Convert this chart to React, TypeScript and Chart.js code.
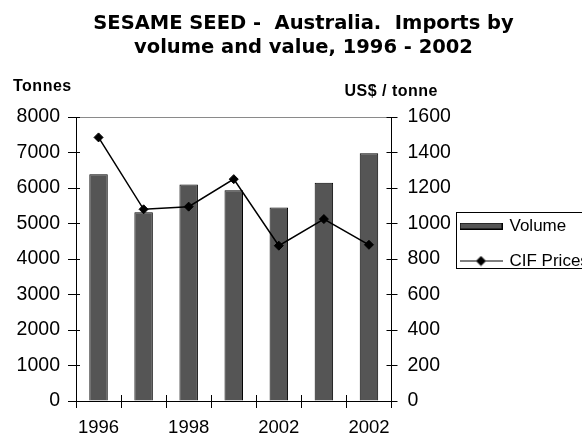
import React, { useEffect, useRef } from "react";
import { Chart, registerables } from "chart.js";

Chart.register(...registerables);

// ---- data ----
const CATEGORIES = ["1996", "1997", "1998", "1999", "2000", "2001", "2002"];
const TICK_LABELS = ["1996", "", "1998", "", "2002", "", "2002"];
const VOLUME = [6390, 5320, 6100, 5940, 5450, 6150, 6980];
const CIF_PRICES = [1485, 1080, 1095, 1250, 875, 1025, 880];
const SERIES_NAMES = ["Volume", "CIF Prices"];
const TITLE_LINES = ["SESAME SEED -  Australia.  Imports by", "volume and value, 1996 - 2002"];
const LEFT_UNIT = "Tonnes";
const RIGHT_UNIT = "US$ / tonne";
const LEFT_RANGE = [0, 8000, 1000];
const RIGHT_RANGE = [0, 1600, 200];

// ---- style ----
const BAR_FILL = "#555555";
const FONT = "'Liberation Sans', Arial, sans-serif";

function alignPx(p: number) {
  return Math.round(p - 0.5) + 0.5;
}

function makeSwatch(): HTMLCanvasElement {
  const c = document.createElement("canvas");
  c.width = 43;
  c.height = 7;
  const g = c.getContext("2d")!;
  g.fillStyle = BAR_FILL;
  g.fillRect(0, 0, 43, 7);
  g.strokeStyle = "#000";
  g.lineWidth = 1;
  g.strokeRect(0.5, 0.5, 42, 6);
  return c;
}

function makeLineMarker(): HTMLCanvasElement {
  const c = document.createElement("canvas");
  c.width = 43;
  c.height = 11;
  const g = c.getContext("2d")!;
  g.strokeStyle = "#000";
  g.lineWidth = 1.2;
  g.beginPath();
  g.moveTo(0, 5.5);
  g.lineTo(43, 5.5);
  g.stroke();
  g.fillStyle = "#000";
  g.beginPath();
  g.moveTo(21.5, 0.5);
  g.lineTo(26.5, 5.5);
  g.lineTo(21.5, 10.5);
  g.lineTo(16.5, 5.5);
  g.closePath();
  g.fill();
  return c;
}

const innerTicks = {
  id: "innerTicks",
  afterDraw(chart: any) {
    const { ctx, chartArea: a, scales } = chart;
    ctx.save();
    ctx.strokeStyle = "#000";
    ctx.lineWidth = 1;
    ctx.beginPath();
    scales.y.ticks.forEach((_t: any, i: number) => {
      const p = alignPx(scales.y.getPixelForTick(i));
      ctx.moveTo(a.left, p);
      ctx.lineTo(a.left + 4, p);
    });
    scales.y1.ticks.forEach((_t: any, i: number) => {
      const p = alignPx(scales.y1.getPixelForTick(i));
      ctx.moveTo(a.right - 5, p);
      ctx.lineTo(a.right, p);
    });
    for (let i = 0; i <= CATEGORIES.length; i++) {
      const x = alignPx(scales.x.getPixelForValue(i - 0.5));
      ctx.moveTo(x, a.bottom);
      ctx.lineTo(x, a.bottom - 6);
    }
    ctx.stroke();
    ctx.restore();
  },
};

const unitsAndFrame = {
  id: "unitsAndFrame",
  afterDraw(chart: any) {
    const { ctx, chartArea: a } = chart;
    ctx.save();
    ctx.fillStyle = "#000";
    ctx.font = `bold 16px ${FONT}`;
    (ctx as any).letterSpacing = "0.5px";
    ctx.textBaseline = "alphabetic";
    ctx.textAlign = "left";
    ctx.fillText(LEFT_UNIT, a.left - 63, a.top - 26);
    ctx.fillText(RIGHT_UNIT, a.right - 47, a.top - 21);
    (ctx as any).letterSpacing = "0px";
    // legend frame
    const lg = chart.legend;
    const hb = lg.legendHitBoxes;
    if (hb && hb.length) {
      const left = alignPx(lg.left + 0.5);
      const top = alignPx(hb[0].top - 5);
      const bottom = alignPx(hb[hb.length - 1].top + 15.5);
      ctx.strokeStyle = "#000";
      ctx.lineWidth = 1;
      ctx.strokeRect(left, top, lg.right + 5 - left, bottom - top);
    }
    ctx.restore();
  },
};

export default function App() {
  const ref = useRef<HTMLCanvasElement | null>(null);

  useEffect(() => {
    if (!ref.current) return;
    const swatch = makeSwatch();
    const marker = makeLineMarker();
    Chart.defaults.font.family = FONT;
    Chart.defaults.color = "#000";

    const chart = new Chart(ref.current, {
      type: "bar",
      data: {
        labels: CATEGORIES,
        datasets: [
          {
            type: "bar",
            label: SERIES_NAMES[0],
            data: VOLUME,
            yAxisID: "y",
            backgroundColor: BAR_FILL,
            borderColor: "#000",
            borderWidth: 1,
            barPercentage: 0.41,
            categoryPercentage: 1,
            order: 1,
          },
          {
            type: "line",
            label: SERIES_NAMES[1],
            data: CIF_PRICES,
            yAxisID: "y1",
            borderColor: "#000",
            borderWidth: 1.5,
            pointStyle: "rectRot",
            pointRadius: 4.5,
            pointBackgroundColor: "#000",
            pointBorderColor: "#000",
            pointBorderWidth: 1,
            tension: 0,
            order: 0,
          } as any,
        ],
      },
      options: {
        responsive: false,
        animation: false,
        devicePixelRatio: 1,
        layout: { padding: { left: 14, right: -11, top: 0, bottom: 0 } },
        plugins: {
          tooltip: { enabled: false },
          title: {
            display: true,
            text: TITLE_LINES,
            color: "#000",
            font: { family: "'DejaVu Sans', sans-serif", weight: "bold", size: 19.5, lineHeight: 24 / 19.5 },
            padding: { top: 12.25, bottom: 56.75 },
            fullSize: true,
          },
          legend: {
            position: "right",
            align: "center",
            fullSize: true,
            maxWidth: 137.5,
            title: {
              display: true,
              text: " ",
              font: { size: 12, lineHeight: 1.2 },
              padding: { top: 24.55, bottom: 24.55 },
            },
            labels: {
              usePointStyle: true,
              pointStyleWidth: 40,
              padding: 5.5,
              color: "#000",
              font: { family: FONT, size: 17, lineHeight: 29.5 / 17 },
              generateLabels: () =>
                SERIES_NAMES.map((t, i) => ({
                  text: [t],
                  pointStyle: i === 0 ? swatch : marker,
                  datasetIndex: i,
                  hidden: false,
                  lineWidth: 0,
                  fillStyle: "transparent",
                  strokeStyle: "transparent",
                  fontColor: "#000",
                })) as any,
            },
          },
        },
        scales: {
          x: {
            offset: true,
            grid: { display: true, offset: true, drawOnChartArea: false, tickLength: 7, color: "#000", tickColor: "#000" },
            border: { display: true, color: "#000", width: 1 },
            ticks: {
              autoSkip: false,
              maxRotation: 0,
              minRotation: 0,
              padding: 9.3,
              color: "#000",
              font: { family: FONT, size: 18.5 },
              callback: (_v: any, i: number) => TICK_LABELS[i],
            },
            afterFit: (s: any) => {
              s.height = 35;
            },
          },
          y: {
            position: "left",
            min: LEFT_RANGE[0],
            max: LEFT_RANGE[1],
            ticks: {
              stepSize: LEFT_RANGE[2],
              padding: 8,
              color: "#000",
              font: { family: FONT, size: 19.5 },
              callback: (v: any) => String(v),
            },
            grid: {
              drawOnChartArea: true,
              tickLength: 8,
              tickColor: "#000",
              color: (c: any) => (c.tick && c.tick.value === LEFT_RANGE[1] ? "#8a8a8a" : "transparent"),
            },
            border: { display: true, color: "#000", width: 1 },
            afterFit: (s: any) => {
              s.width = 62;
            },
          },
          y1: {
            position: "right",
            min: RIGHT_RANGE[0],
            max: RIGHT_RANGE[1],
            ticks: {
              stepSize: RIGHT_RANGE[2],
              padding: 10,
              color: "#000",
              font: { family: FONT, size: 19.5 },
              callback: (v: any) => String(v),
            },
            grid: { drawOnChartArea: false, tickLength: 6, color: "#000", tickColor: "#000" },
            border: { display: true, color: "#000", width: 1 },
            afterFit: (s: any) => {
              s.width = 64;
            },
          },
        },
      },
      plugins: [innerTicks, unitsAndFrame],
    });
    return () => chart.destroy();
  }, []);

  return (
    <div style={{ position: "fixed", left: 0, top: 0, width: 582, height: 436, background: "#fff", overflow: "hidden" }}>
      <canvas ref={ref} width={582} height={436} style={{ display: "block" }} />
    </div>
  );
}
